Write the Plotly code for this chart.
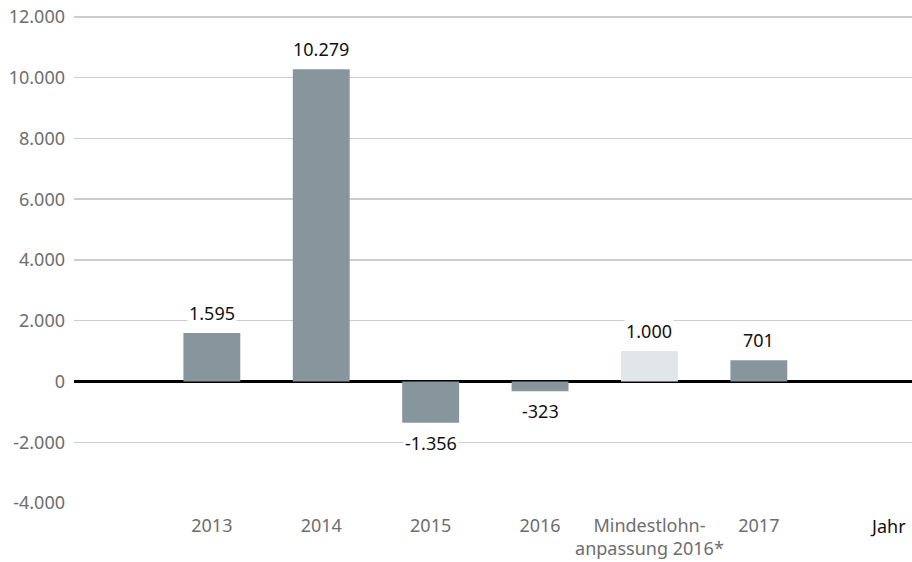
import plotly.graph_objects as go

categories = ["2013", "2014", "2015", "2016", "Mindestlohn-<br>anpassung 2016*", "2017"]
values = [1595, 10279, -1356, -323, 1000, 701]
value_labels = ["1.595", "10.279", "-1.356", "-323", "1.000", "701"]
bar_colors = ["#87969d", "#87969d", "#87969d", "#87969d", "#e1e6e8", "#87969d"]
y_ticks = [-4000, -2000, 0, 2000, 4000, 6000, 8000, 10000, 12000]
y_tick_labels = ["-4.000", "-2.000", "0", "2.000", "4.000", "6.000", "8.000", "10.000", "12.000"]
axis_title = "Jahr"

FONT = "Noto Sans, Open Sans, sans-serif"

fig = go.Figure()
fig.add_trace(go.Bar(
    x=categories, y=values, marker=dict(color=bar_colors, line=dict(width=0)),
    width=0.52, hoverinfo="skip",
))

for i, (v, t) in enumerate(zip(values, value_labels)):
    fig.add_annotation(
        x=i, y=v, text=t, showarrow=False,
        yshift=20 if v >= 0 else -20,
        font=dict(family=FONT, size=18, color="#111111"),
        bgcolor="white", borderpad=1,
    )

fig.add_annotation(
    xref="paper", yref="paper", x=0.971, y=-0.047, text=axis_title,
    showarrow=False, xanchor="center", yanchor="middle",
    font=dict(family=FONT, size=18, color="#111111"),
)

fig.update_layout(
    width=912, height=562,
    margin=dict(l=74, r=0, t=15, b=59),
    plot_bgcolor="white", paper_bgcolor="white",
    showlegend=False,
    xaxis=dict(
        type="category", range=[-1.26, 6.4],
        showgrid=False, showline=False, zeroline=False, ticks="",
        ticklabelstandoff=10, automargin=False,
        tickfont=dict(family=FONT, size=18, color="#6e6e6e"),
    ),
    yaxis=dict(
        range=[-4000, 12065], tickvals=y_ticks, ticktext=y_tick_labels,
        showgrid=True, gridcolor="#cdcdcd", gridwidth=1.5,
        zeroline=True, zerolinecolor="#000000", zerolinewidth=3.5,
        showline=False, ticks="", ticklabelstandoff=8, automargin=False,
        tickfont=dict(family=FONT, size=18, color="#6e6e6e"),
    ),
)

# remove the browser's default 8px page margin so the figure fills the window
fig.write_html(
    "out.html",
    config={"displayModeBar": False, "staticPlot": True},
    post_script="document.body.style.margin='0';",
)
